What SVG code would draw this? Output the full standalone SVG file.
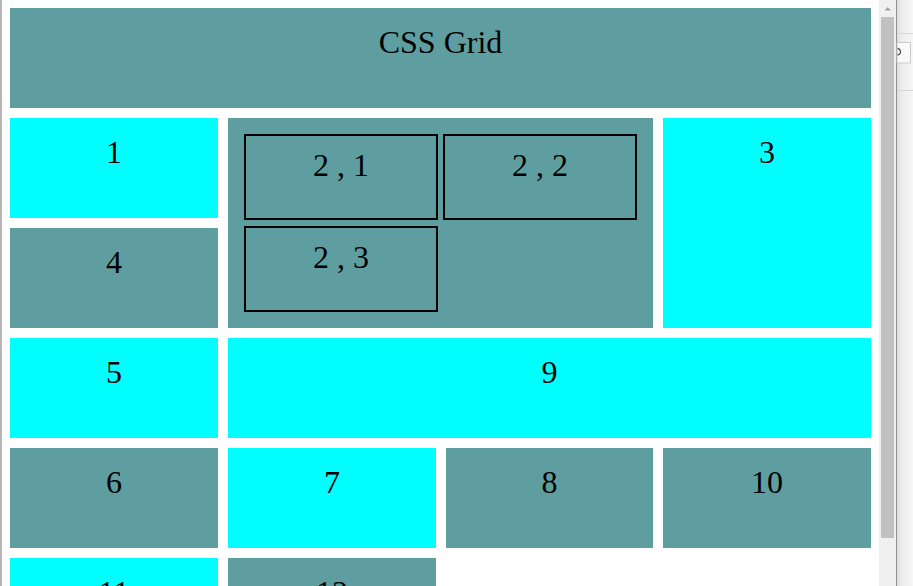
<svg xmlns="http://www.w3.org/2000/svg" width="913" height="586" viewBox="0 0 913 586">
  <defs>
    <style>
      .teal { fill: #5F9EA0; }
      .cyan { fill: #00FFFF; }
      .inner { fill: none; stroke: #000000; stroke-width: 2; }
      .lbl { font-family: "Liberation Serif", "Times New Roman", serif; font-size: 32px; fill: #000000; text-anchor: middle; }
    </style>
    <linearGradient id="panelGrad" x1="0" y1="0" x2="1" y2="0">
      <stop offset="0" stop-color="#dcdcdc"/>
      <stop offset="0.4" stop-color="#eeeeee"/>
      <stop offset="1" stop-color="#f6f6f6"/>
    </linearGradient>
    <clipPath id="pageClip"><rect x="0" y="0" width="879" height="586"/></clipPath>
  </defs>

  <rect x="0" y="0" width="913" height="586" fill="#ffffff"/>
  <line x1="1" y1="0" x2="1" y2="586" stroke="#9c9c9c" stroke-width="1.5"/>

  <g clip-path="url(#pageClip)">
    <g id="header">
      <rect class="teal" x="10" y="8" width="861" height="100"/>
      <text class="lbl" x="440.5" y="52.5">CSS Grid</text>
    </g>
    <g id="item-1">
      <rect class="cyan" x="10" y="118" width="208" height="100"/>
      <text class="lbl" x="114" y="163">1</text>
    </g>
    <g id="item-2">
      <rect class="teal" x="228" y="118" width="425" height="210"/>
      <g id="item-2-1">
        <rect class="inner" x="245" y="135" width="192" height="84"/>
        <text class="lbl" x="341" y="176">2 , 1</text>
      </g>
      <g id="item-2-2">
        <rect class="inner" x="444" y="135" width="192" height="84"/>
        <text class="lbl" x="540" y="176">2 , 2</text>
      </g>
      <g id="item-2-3">
        <rect class="inner" x="245" y="227" width="192" height="84"/>
        <text class="lbl" x="341" y="267.5">2 , 3</text>
      </g>
    </g>
    <g id="item-3">
      <rect class="cyan" x="663" y="118" width="208" height="210"/>
      <text class="lbl" x="767" y="163">3</text>
    </g>
    <g id="item-4">
      <rect class="teal" x="10" y="228" width="208" height="100"/>
      <text class="lbl" x="114" y="273">4</text>
    </g>
    <g id="item-5">
      <rect class="cyan" x="10" y="338" width="208" height="100"/>
      <text class="lbl" x="114" y="383">5</text>
    </g>
    <g id="item-9">
      <rect class="cyan" x="228" y="338" width="643" height="100"/>
      <text class="lbl" x="549.5" y="383">9</text>
    </g>
    <g id="item-6">
      <rect class="teal" x="10" y="448" width="208" height="100"/>
      <text class="lbl" x="114" y="493">6</text>
    </g>
    <g id="item-7">
      <rect class="cyan" x="228" y="448" width="208" height="100"/>
      <text class="lbl" x="332" y="493">7</text>
    </g>
    <g id="item-8">
      <rect class="teal" x="446" y="448" width="207" height="100"/>
      <text class="lbl" x="549.5" y="493">8</text>
    </g>
    <g id="item-10">
      <rect class="teal" x="663" y="448" width="208" height="100"/>
      <text class="lbl" x="767" y="493">10</text>
    </g>
    <g id="item-11">
      <rect class="cyan" x="10" y="558" width="208" height="60"/>
      <text class="lbl" x="114" y="603">11</text>
    </g>
    <g id="item-12">
      <rect class="teal" x="228" y="558" width="208" height="60"/>
      <text class="lbl" x="332" y="603">12</text>
    </g>
  </g>

  <g id="connectors"></g>

  <g id="scrollbar">
    <rect x="879" y="0" width="17" height="586" fill="#f0f0f0"/>
    <polygon points="884.5,10.5 891,10.5 887.75,7" fill="#a3a3a3"/>
    <rect x="881" y="17" width="13" height="521" fill="#c1c1c1"/>
  </g>

  <g id="side-panel">
    <rect x="896" y="0" width="17" height="586" fill="url(#panelGrad)"/>
    <line x1="896.5" y1="0" x2="896.5" y2="586" stroke="#8f8f8f" stroke-width="1"/>
    <line x1="897" y1="33.5" x2="913" y2="33.5" stroke="#dadada" stroke-width="1"/>
    <line x1="897" y1="90.5" x2="913" y2="90.5" stroke="#d4d4d4" stroke-width="1"/>
    <rect x="897" y="42.5" width="13.5" height="20.5" fill="#f9f9f9" stroke="#cccccc" stroke-width="1"/>
    <path d="M 897.5 48.5 A 3 3.2 0 1 1 897.5 55" fill="none" stroke="#555555" stroke-width="1.3"/>
  </g>
</svg>
